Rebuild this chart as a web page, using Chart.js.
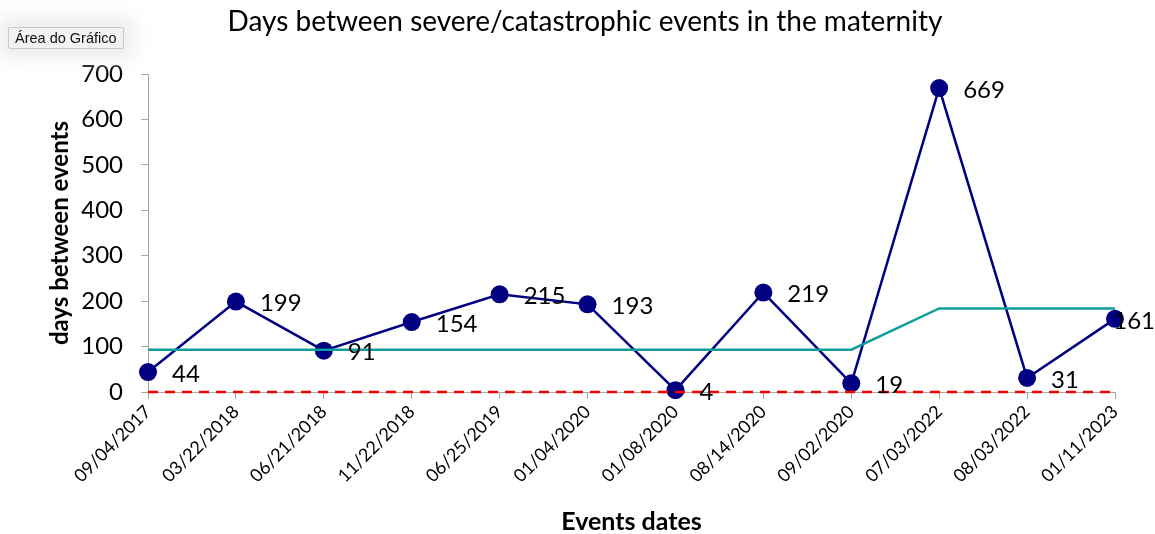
<!DOCTYPE html>
<html>
<head>
<meta charset="utf-8">
<script src="https://cdn.jsdelivr.net/npm/chart.js@4.4.1/dist/chart.umd.min.js"></script>
<style>
  html, body { margin: 0; padding: 0; background: #fff; }
  #wrap { position: relative; width: 1155px; height: 534px; }
  #tip {
    position: absolute; left: 8px; top: 27px;
    font-family: "Liberation Sans", Arial, sans-serif; font-size: 14.5px; color: #111;
    background: #f2f2f2; border: 1px solid #c8c8c8; border-radius: 2px;
    padding: 2px 6px; box-shadow: 0 0 18px 10px rgba(235,235,235,0.9);
    z-index: 2;
  }
</style>
</head>
<body>
<div id="wrap">
  <div id="tip">Área do Gráfico</div>
  <canvas id="c" width="1155" height="534"></canvas>
</div>
<script>
const chartTitle = 'Days between severe/catastrophic events in the maternity';
const eventDates = ["09/04/2017","03/22/2018","06/21/2018","11/22/2018","06/25/2019","01/04/2020","01/08/2020","08/14/2020","09/02/2020","07/03/2022","08/03/2022","01/11/2023"];
const daysBetween = [44,199,91,154,215,193,4,219,19,669,31,161];
const centerLine = [93,93,93,93,93,93,93,93,93,184,184,184];
const zeroLine = [0,0,0,0,0,0,0,0,0,0,0,0];
const yTicks = [0,100,200,300,400,500,600,700];

const FONT = "Lato, 'Open Sans', sans-serif";

const labelPlugin = {
  id: 'pointLabels',
  afterDatasetsDraw(chart) {
    const ctx = chart.ctx;
    const meta = chart.getDatasetMeta(2);
    ctx.save();
    ctx.font = "24px " + FONT;
    ctx.fillStyle = "#000";
    ctx.textBaseline = "middle";
    ctx.textAlign = "left";
    meta.data.forEach((pt, i) => {
      const txt = String(daysBetween[i]);
      const w = ctx.measureText(txt).width;
      let x = pt.x + 24;
      if (x + w > chart.width) x = chart.width - w;
      ctx.fillText(txt, x, pt.y + 2);
    });
    ctx.restore();
  }
};

const titlePlugin = {
  id: 'customTitle',
  afterDraw(chart) {
    const ctx = chart.ctx;
    ctx.save();
    ctx.font = "28px " + FONT;
    ctx.fillStyle = "#000";
    ctx.textAlign = "center";
    ctx.textBaseline = "middle";
    ctx.fillText(chartTitle, 585, 22);
    ctx.restore();
  }
};

new Chart(document.getElementById('c'), {
  type: 'line',
  data: {
    labels: eventDates,
    datasets: [
      { data: zeroLine, borderColor: '#ff0000', borderWidth: 2.5, borderDash: [10, 7], pointRadius: 0, tension: 0, clip: false },
      { data: centerLine, borderColor: '#0f9e9a', borderWidth: 2.5, pointRadius: 0, tension: 0, clip: false },
      { data: daysBetween, borderColor: '#000080', borderWidth: 2.5, pointRadius: 9, pointBackgroundColor: '#000080', pointBorderColor: '#000080', pointBorderWidth: 0, tension: 0, clip: false }
    ]
  },
  options: {
    responsive: false,
    animation: false,
    layout: { padding: { left: 0, right: 40, top: 74, bottom: 0 } },
    plugins: {
      legend: { display: false },
      tooltip: { enabled: false },
      title: { display: false }
    },
    scales: {
      x: {
        offset: false,
        afterFit(s) { s.height = 142; },
        grid: { drawOnChartArea: false, drawTicks: true, tickLength: 7, color: '#a6a6a6' },
        border: { color: '#a6a6a6', width: 1 },
        ticks: { color: '#000', font: { family: FONT, size: 18 }, maxRotation: 45, minRotation: 45, padding: 2, autoSkip: false },
        title: { display: true, text: 'Events dates', color: '#000', font: { family: FONT, size: 25, weight: 'bold' }, padding: { top: 0, bottom: -3 } }
      },
      y: {
        min: 0, max: 700,
        afterFit(s) { s.width = 148; },
        afterBuildTicks(s) { s.ticks = yTicks.map(v => ({ value: v })); },
        grid: { drawOnChartArea: false, drawTicks: true, tickLength: 7, color: '#a6a6a6' },
        border: { color: '#a6a6a6', width: 1 },
        ticks: { color: '#000', font: { family: FONT, size: 24 }, padding: 18 },
        title: { display: true, text: 'days between events', color: '#000', font: { family: FONT, size: 24, weight: 'bold' }, padding: { top: 46, bottom: 0 } }
      }
    }
  },
  plugins: [labelPlugin, titlePlugin]
});
</script>
</body>
</html>
